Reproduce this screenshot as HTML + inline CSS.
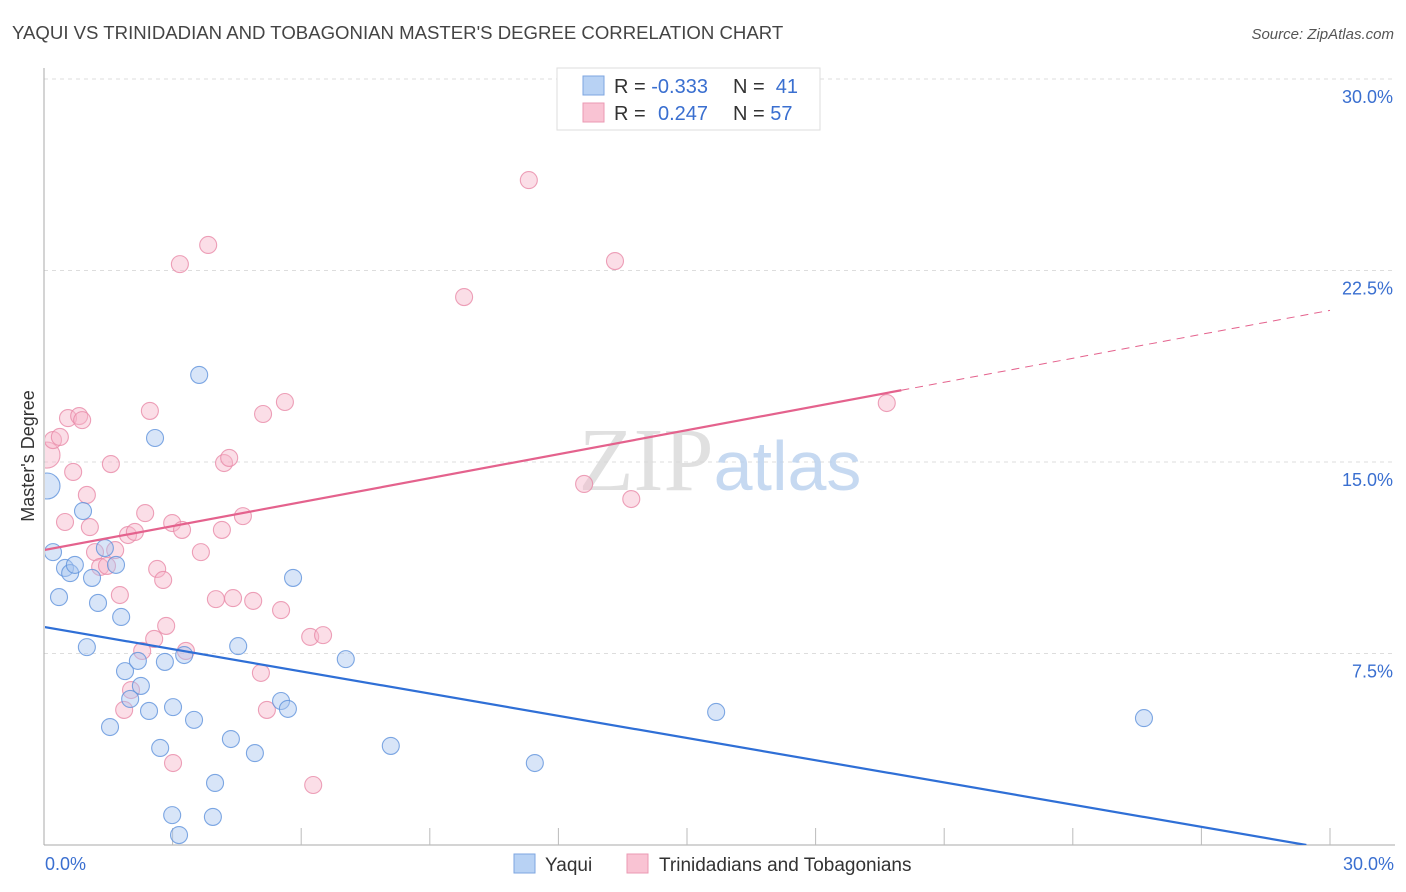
<!DOCTYPE html>
<html><head><meta charset="utf-8"><style>
body{margin:0;background:#fff;font-family:"Liberation Sans",sans-serif;}
svg{display:block}
</style></head><body>
<svg id="chart" width="1406" height="892" xmlns="http://www.w3.org/2000/svg">
<text x="12" y="39" font-size="18.6" fill="#444">YAQUI VS TRINIDADIAN AND TOBAGONIAN MASTER'S DEGREE CORRELATION CHART</text>
<text x="1394" y="39" font-size="15" fill="#555" text-anchor="end" font-style="italic">Source: ZipAtlas.com</text>
<text transform="translate(34,456) rotate(-90)" font-size="18" fill="#333" text-anchor="middle">Master's Degree</text>
<g id="grid"></g>
<text x="720" y="490" font-size="90" text-anchor="middle" fill="#d9d9d9" font-family="Liberation Serif,serif" opacity="0.8">ZIP<tspan fill="#b9d0ee" font-family="Liberation Sans,sans-serif" font-size="70">atlas</tspan></text>
<defs><clipPath id="clip" clipPathUnits="userSpaceOnUse"><rect x="45" y="60" width="1360" height="785"/></clipPath></defs>
<g id="pts" clip-path="url(#clip)"></g>
<g id="lines" clip-path="url(#clip)"></g>
<g>
<rect x="557" y="68" width="263" height="62" fill="#fff" stroke="#ddd"/>
<rect x="583" y="76" width="21" height="19" fill="#b8d2f4" stroke="#7ea6e0"/>
<rect x="583" y="103" width="21" height="19" fill="#f9c3d3" stroke="#eb9ab3"/>
<text x="614" y="93" font-size="20" fill="#333">R = <tspan fill="#3a6fd0">-0.333</tspan><tspan x="733">N = </tspan><tspan fill="#3a6fd0">&#160;41</tspan></text>
<text x="614" y="120" font-size="20" fill="#333">R = <tspan fill="#3a6fd0" x="658">0.247</tspan><tspan x="733">N = </tspan><tspan fill="#3a6fd0">57</tspan></text>
</g>
<g>
<rect x="514" y="854" width="21" height="19" fill="#b8d2f4" stroke="#7ea6e0"/>
<text x="545" y="871" font-size="19" fill="#333">Yaqui</text>
<rect x="627" y="854" width="21" height="19" fill="#f9c3d3" stroke="#eb9ab3"/>
<text x="659" y="871" font-size="19" fill="#333">Trinidadians and Tobagonians</text>
</g>
<text x="45" y="870" font-size="18" fill="#3a6fd0">0.0%</text>
<text x="1394" y="870" font-size="18" fill="#3a6fd0" text-anchor="end">30.0%</text>
</svg>
<script>
const yTicks=[30,22.5,15,7.5];
const yTickLabels=["30.0%","22.5%","15.0%","7.5%"];
const blueX=[0.07,0.21,0.49,0.61,0.72,0.35,0.91,1.12,1.26,1.00,1.42,1.68,1.80,1.89,2.19,2.26,2.01,1.54,2.45,2.59,2.82,3.01,3.27,3.50,3.62,2.71,2.99,3.15,3.94,3.99,4.36,4.53,4.92,5.53,5.69,5.81,7.04,8.09,11.45,15.68,25.66];
const blueY=[14.06,11.47,10.85,10.65,10.97,9.71,13.08,10.46,9.48,7.75,11.63,10.97,8.93,6.81,7.21,6.23,5.72,4.62,5.25,15.94,7.17,5.40,7.44,4.90,18.41,3.80,1.17,0.39,1.10,2.43,4.15,7.79,3.60,5.64,5.33,10.46,7.28,3.88,3.21,5.21,4.97];
const pinkX=[0.07,0.21,0.37,0.56,0.82,0.89,0.68,1.00,0.49,1.07,1.56,1.19,1.31,1.47,1.66,1.96,2.12,2.36,2.47,2.64,2.78,1.77,2.85,2.57,2.29,2.03,1.87,2.99,3.22,3.31,3.66,3.17,3.83,4.01,4.20,4.32,4.15,4.41,4.64,4.88,5.06,5.11,5.20,5.53,5.62,6.21,6.51,6.28,3.01,9.80,11.31,12.60,13.32,13.70,19.66];
const pinkY=[15.27,15.86,15.98,16.72,16.80,16.64,14.61,13.71,12.65,12.45,14.92,11.47,10.89,10.93,11.55,12.14,12.26,13.00,17.00,10.81,10.38,9.79,8.58,8.07,7.60,6.07,5.29,12.61,12.34,7.60,11.47,22.75,23.50,9.63,14.96,15.16,12.34,9.67,12.88,9.56,6.74,16.88,5.29,9.20,17.35,8.15,8.22,2.35,3.21,21.46,26.04,14.14,22.87,13.55,17.31];
const blueTrend=[8.54,-0.29];
const pinkTrend=[11.55,0.313];
const NS="http://www.w3.org/2000/svg";
const X=v=>44+v/30*1286, Y=v=>845-v/30*766;
function mk(t,a,p){const e=document.createElementNS(NS,t);for(const k in a)e.setAttribute(k,a[k]);p.appendChild(e);return e;}
const g=document.getElementById('grid');
yTicks.forEach((t,i)=>{
 const l=mk('line',{x1:44,x2:1395,y1:Y(t),y2:Y(t),stroke:'#ddd','stroke-dasharray':'4,4'},g);
 
 
 const tx=mk('text',{x:1393,y:Y(t)+24,'font-size':18,fill:'#3a6fd0','text-anchor':'end'},g);
 tx.textContent=yTickLabels[i];
 
 
});
mk('line',{x1:44,x2:44,y1:68,y2:845,stroke:'#aaa'},g);
mk('line',{x1:44,x2:1395,y1:845,y2:845,stroke:'#aaa'},g);
for(let i=1;i<=10;i++){const t=mk('line',{x1:X(i*3),x2:X(i*3),y1:828,y2:845,stroke:'#bbb'},g);
 
 }
const P=document.getElementById('pts');
function dots(xs,ys,fill,stroke,name){xs.forEach((x,i)=>{
 const r=(i===0)?13:8.5;
 const c=mk('circle',{cx:X(x),cy:Y(ys[i]),r:r,fill:fill,'fill-opacity':0.45,stroke:stroke,'stroke-width':1.1,'stroke-opacity':0.8},P);
 
 });}
dots(pinkX,pinkY,'#f7b6ca','#e88aa8','pink-point');
dots(blueX,blueY,'#a8c6f0','#5f92dc','blue-point');
const L=document.getElementById('lines');
const bEnd=-blueTrend[0]/blueTrend[1];
const bl=mk('line',{x1:X(0),y1:Y(blueTrend[0]),x2:X(bEnd),y2:Y(blueTrend[0]+blueTrend[1]*bEnd),stroke:'#2f6fd6','stroke-width':2.2},L);


const pl=mk('line',{x1:X(0),y1:Y(pinkTrend[0]),x2:X(20),y2:Y(pinkTrend[0]+pinkTrend[1]*20),stroke:'#e4628d','stroke-width':2.2},L);


const pd=mk('line',{x1:X(20),y1:Y(pinkTrend[0]+pinkTrend[1]*20),x2:X(30),y2:Y(pinkTrend[0]+pinkTrend[1]*30),stroke:'#e4628d','stroke-width':1,'stroke-dasharray':'8,6'},L);


</script>
</body></html>
